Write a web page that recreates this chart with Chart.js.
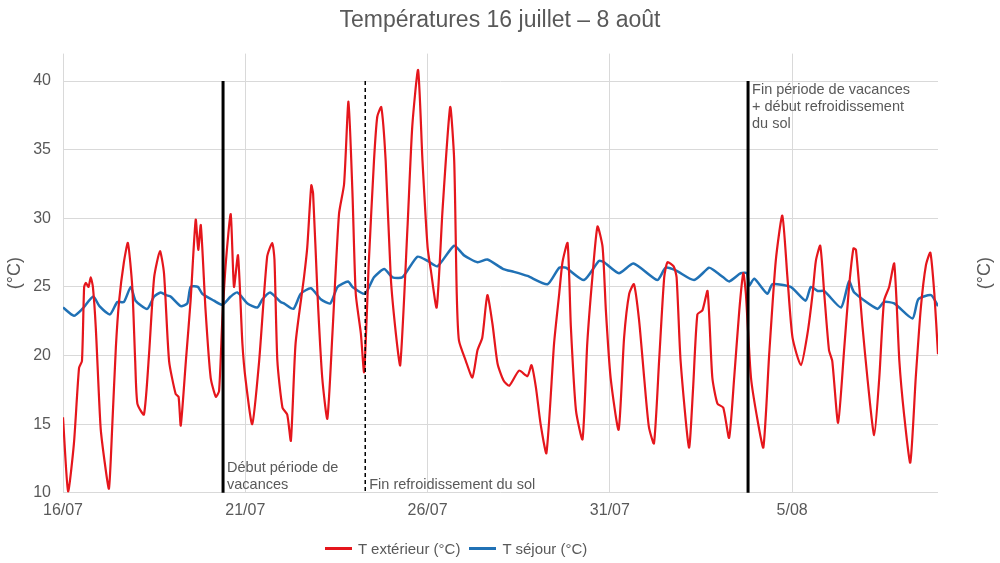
<!DOCTYPE html>
<html>
<head>
<meta charset="utf-8">
<script src="https://cdn.jsdelivr.net/npm/chart.js@4"></script>
<style>
  body { margin: 0; background: #fff; font-family: "Liberation Sans", Arial, sans-serif; }
  #wrap { position: relative; width: 1000px; height: 563px; }
  #legend { position: absolute; left: 325px; top: 540px; display: flex; align-items: center; font-size: 15px; color: #595959; }
  #legend .sw { display: inline-block; width: 27px; height: 2.5px; margin-right: 6px; }
  #legend .item { display: flex; align-items: center; margin-right: 9px; }
</style>
</head>
<body>
<div id="wrap">
  <canvas id="chart" width="1000" height="563"></canvas>
  <div id="legend"></div>
</div>
<script>
'use strict';

// days since 16/07 00:00
let xTickDays = [0, 5, 10, 15, 20];
let xTickLabels = ['16/07', '21/07', '26/07', '31/07', '5/08'];
let yTicks = [10, 15, 20, 25, 30, 35, 40];

let extDays = [0.00, 0.14, 0.30, 0.44, 0.52, 0.58, 0.63, 0.70, 0.76, 0.82, 0.90, 1.03, 1.14, 1.26, 1.35, 1.45, 1.54, 1.67, 1.78, 1.90, 1.98,
  2.04, 2.22, 2.36, 2.50, 2.66, 2.77, 2.91, 3.09, 3.17, 3.23, 3.37, 3.50, 3.64, 3.71, 3.78, 3.91, 4.05, 4.19, 4.28, 4.37, 4.47, 4.60,
  4.69, 4.80, 4.92, 5.01, 5.19, 5.38, 5.60, 5.74, 5.80, 5.88, 6.02, 6.15, 6.25, 6.38, 6.61, 6.70, 6.81, 6.86, 6.98, 7.11, 7.25, 7.39,
  7.57, 7.71, 7.83, 7.94, 8.03, 8.17, 8.26, 8.39, 8.53, 8.62, 8.73, 8.85, 8.99, 9.13, 9.25, 9.45, 9.58, 9.74, 9.86, 10.00, 10.09,
  10.25, 10.41, 10.62, 10.73, 10.80, 10.86, 11.05, 11.23, 11.37, 11.50, 11.64, 11.78, 11.92, 12.08, 12.24, 12.51, 12.74, 12.85,
  12.97, 13.10, 13.26, 13.47, 13.61, 13.70, 13.84, 13.93, 14.07, 14.25, 14.38, 14.52, 14.66, 14.80, 14.89, 15.02, 15.24, 15.39,
  15.53, 15.66, 15.80, 15.94, 16.07, 16.21, 16.35, 16.49, 16.58, 16.75, 16.83, 16.94, 17.17, 17.28, 17.40, 17.54, 17.68, 17.81,
  17.95, 18.11, 18.27, 18.41, 18.55, 18.66, 18.73, 18.87, 19.05, 19.21, 19.37, 19.55, 19.73, 19.87, 20.01, 20.24, 20.42, 20.56,
  20.65, 20.77, 20.88, 21.01, 21.10, 21.26, 21.43, 21.56, 21.68, 21.75, 21.93, 22.07, 22.25, 22.39, 22.52, 22.66, 22.80, 22.94,
  23.07, 23.24, 23.39, 23.53, 23.67, 23.79, 23.90, 24.00];
let extTemps = [15.5, 10.1, 13.6, 19.1, 19.6, 25.0, 25.3, 25.0, 25.7, 25.0, 22.0, 14.8, 12.3, 10.3, 14.8, 20.6, 24.0, 26.8, 28.2, 25.0, 19.6,
  16.5, 15.7, 20.1, 25.7, 27.6, 26.0, 19.6, 17.2, 17.0, 14.9, 19.6, 24.0, 29.9, 27.7, 29.5, 23.3, 18.4, 17.0, 17.4, 22.6, 26.9, 30.3,
  25.0, 27.3, 20.9, 18.2, 15.0, 19.6, 27.2, 28.2, 27.0, 19.6, 16.2, 15.7, 13.8, 20.9, 25.7, 27.9, 32.4, 31.8, 24.5, 18.4, 15.4, 21.6,
  30.3, 32.5, 38.5, 31.8, 24.5, 21.6, 18.8, 26.9, 34.2, 37.4, 38.1, 34.2, 25.7, 21.6, 19.3, 29.4, 36.7, 40.8, 34.2, 27.9, 26.2,
  23.5, 30.6, 38.1, 34.2, 24.5, 21.1, 19.6, 18.4, 20.4, 21.3, 24.4, 22.3, 19.4, 18.2, 17.8, 18.9, 18.5, 19.3,
  17.7, 15.0, 12.9, 20.9, 24.5, 26.8, 28.2, 22.1, 16.0, 13.9, 20.9, 25.7, 29.4, 27.9, 23.3, 18.4, 14.6, 21.3,
  24.5, 25.2, 22.6, 18.4, 14.8, 13.6, 19.6, 25.7, 26.8, 26.5, 25.7, 19.6, 13.3, 17.5, 23.0, 23.3, 24.7, 18.4,
  16.5, 16.2, 14.0, 18.4, 23.3, 26.0, 24.5, 18.4, 15.3, 13.3, 20.1, 26.9, 30.2, 25.7, 21.3, 19.3, 21.6, 24.5,
  26.9, 28.0, 24.5, 20.4, 19.6, 15.1, 20.6, 25.0, 27.8, 27.7, 22.1, 18.2, 14.2, 18.4, 24.0, 25.0, 26.7, 19.6,
  15.7, 12.2, 18.4, 23.5, 26.6, 27.5, 24.5, 20.1];

let sejDays = [0.00, 0.30, 0.53, 0.83, 1.00, 1.29, 1.49, 1.67, 1.86, 1.99, 2.31, 2.50, 2.68, 2.83, 2.95, 3.23, 3.41, 3.50, 3.70, 3.82,
  4.14, 4.37, 4.60, 4.78, 5.06, 5.33, 5.47, 5.68, 5.97, 6.06, 6.32, 6.52, 6.80, 7.07, 7.33, 7.53, 7.82, 7.94, 8.28, 8.53, 8.81,
  9.04, 9.31, 9.72, 10.00, 10.27, 10.73, 11.00, 11.37, 11.64, 12.08, 12.37, 12.74, 13.29, 13.61, 13.79, 14.29, 14.70, 14.84,
  15.25, 15.65, 16.30, 16.53, 16.81, 17.31, 17.72, 17.86, 18.11, 18.27, 18.59, 18.76, 18.82, 18.96, 19.32, 19.46, 19.96, 20.37,
  20.51, 20.70, 20.88, 21.34, 21.56, 21.70, 22.34, 22.52, 22.80, 23.30, 23.46, 23.81, 24.00];
let sejTemps = [23.5, 22.9, 23.4, 24.3, 23.6, 23.0, 23.9, 23.9, 25.0, 24.0, 23.4, 24.3, 24.6, 24.4, 24.3, 23.6, 23.8, 25.0, 25.0, 24.5,
  24.0, 23.7, 24.3, 24.6, 23.8, 23.5, 24.1, 24.6, 23.9, 23.8, 23.4, 24.5, 24.9, 24.1, 23.8, 25.0, 25.4, 25.0, 24.5, 25.7, 26.3,
  25.7, 25.7, 27.2, 26.9, 26.5, 28.0, 27.3, 26.8, 27.0, 26.3, 26.1, 25.8, 25.2, 26.4, 26.4, 25.5, 26.9, 26.8,
  26.0, 26.7, 25.5, 26.4, 26.2, 25.5, 26.4, 26.2, 25.7, 25.4, 26.0, 26.0, 25.1, 25.6, 24.5, 25.2, 25.0, 24.0,
  25.0, 24.7, 24.7, 23.5, 25.4, 24.6, 23.4, 23.9, 23.8, 22.7, 24.1, 24.4, 23.6];

let eventDays = [4.39, 8.29, 18.79];
let eventDashed = [false, true, false];
let eventLabels = [['Début période de', 'vacances'], ['Fin refroidissement du sol'], ['Fin période de vacances', '+ début refroidissement', 'du sol']];

let seriesNames = ['T extérieur (°C)', 'T séjour (°C)'];
let seriesColors = ['#e5161c', '#2071b5'];

function toPoints(xs, ys) {
  let pts = [];
  for (let i = 0; i < xs.length; i++) {
    pts.push({ x: xs[i], y: ys[i] });
  }
  return pts;
}

let textColor = '#595959';
let fontFam = '"Liberation Sans", Arial, sans-serif';

let eventsPlugin = {
  id: 'events',
  afterDatasetsDraw(chart) {
    let ctx = chart.ctx;
    let xs = chart.scales.x;
    let ys = chart.scales.y;
    let top = ys.getPixelForValue(40);
    let bottom = ys.getPixelForValue(10);
    ctx.save();
    for (let i = 0; i < eventDays.length; i++) {
      let px = xs.getPixelForValue(eventDays[i]);
      ctx.beginPath();
      ctx.strokeStyle = '#000';
      if (eventDashed[i]) {
        ctx.lineWidth = 1.5;
        ctx.setLineDash([4, 3]);
      } else {
        ctx.lineWidth = 3;
        ctx.setLineDash([]);
      }
      ctx.moveTo(px, top);
      ctx.lineTo(px, bottom);
      ctx.stroke();

      ctx.fillStyle = textColor;
      ctx.font = '14.5px ' + fontFam;
      ctx.textAlign = 'left';
      ctx.textBaseline = 'middle';
      let lines = eventLabels[i];
      let lh = 17;
      let atTop = i === 2;
      for (let j = 0; j < lines.length; j++) {
        let ty;
        if (atTop) {
          ty = top + 9 + j * lh;
        } else {
          ty = bottom - 8 - (lines.length - 1 - j) * lh;
        }
        ctx.fillText(lines[j], px + 4, ty);
      }
    }
    // right axis title, same direction as the left one
    let r = chart.scales.y2;
    ctx.setLineDash([]);
    ctx.translate(r.right - 15, (r.top + r.bottom) / 2);
    ctx.rotate(-Math.PI / 2);
    ctx.font = '18px ' + fontFam;
    ctx.textAlign = 'center';
    ctx.fillText('(°C)', 0, 0);
    ctx.restore();
  }
};

function renderChart() {
  let canvasElem = document.getElementById('chart');

  let chartObj = {
    type: 'line',
    data: {
      datasets: [{
        label: seriesNames[0],
        data: toPoints(extDays, extTemps),
        borderColor: seriesColors[0],
        backgroundColor: seriesColors[0],
        borderWidth: 2.2,
        pointRadius: 0,
        tension: 0.2,
        yAxisID: 'y'
      },
      {
        label: seriesNames[1],
        data: toPoints(sejDays, sejTemps),
        borderColor: seriesColors[1],
        backgroundColor: seriesColors[1],
        borderWidth: 2.5,
        pointRadius: 0,
        tension: 0.2,
        yAxisID: 'y'
      }]
    },
    options: {
      responsive: false,
      animation: false,
      layout: { padding: { bottom: 35 } },
      plugins: {
        legend: { display: false },
        tooltip: { enabled: false },
        title: {
          display: true,
          text: 'Températures 16 juillet – 8 août',
          color: textColor,
          font: { family: fontFam, size: 23, weight: 'normal' },
          padding: { top: 7, bottom: 19 }
        }
      },
      scales: {
        x: {
          type: 'linear',
          min: 0,
          max: 24,
          afterBuildTicks: (s) => { s.ticks = xTickDays.map(v => ({ value: v })); },
          ticks: {
            color: textColor,
            font: { family: fontFam, size: 16 },
            padding: 8,
            maxRotation: 0,
            autoSkip: false,
            callback: (v) => xTickLabels[xTickDays.indexOf(v)]
          },
          grid: { color: '#d9d9d9', drawTicks: false },
          border: { display: false }
        },
        y: {
          min: 10,
          max: 42,
          afterBuildTicks: (s) => { s.ticks = yTicks.map(v => ({ value: v })); },
          afterFit: (s) => { s.width = 63; },
          ticks: {
            color: textColor,
            font: { family: fontFam, size: 16 },
            padding: 12
          },
          grid: { color: '#d9d9d9', drawTicks: false },
          border: { display: false },
          title: {
            display: true,
            text: '(°C)',
            color: textColor,
            font: { family: fontFam, size: 18 },
            padding: { top: 4, bottom: 0 }
          }
        },
        y2: {
          position: 'right',
          min: 10,
          max: 42,
          afterFit: (s) => { s.width = 62; },
          ticks: { display: false },
          grid: { display: false },
          border: { display: false }
        }
      }
    },
    plugins: [eventsPlugin]
  };

  new Chart(canvasElem, chartObj);

  let legendElem = document.getElementById('legend');
  for (let i = 0; i < seriesNames.length; i++) {
    let item = document.createElement('span');
    item.className = 'item';
    let sw = document.createElement('span');
    sw.className = 'sw';
    sw.style.background = seriesColors[i];
    item.appendChild(sw);
    item.appendChild(document.createTextNode(seriesNames[i]));
    legendElem.appendChild(item);
  }
}

renderChart();
</script>
</body>
</html>
